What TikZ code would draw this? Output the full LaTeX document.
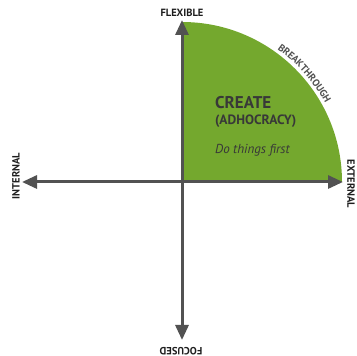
\documentclass[tikz,border=0pt]{standalone}
\usepackage{fontspec}
\setmainfont{PT Sans}
\usetikzlibrary{arrows.meta,decorations.text}
\definecolor{creategreen}{HTML}{74A82E}
\definecolor{axisgray}{HTML}{525252}
\definecolor{labelgray}{HTML}{1E1E1E}
\definecolor{quadtext}{HTML}{383838}
\begin{document}
\begin{tikzpicture}[x=1pt, y=1pt,
    axis/.style={draw=axisgray, line width=3pt, -{Triangle[length=15pt,width=13pt]}},
    axislabel/.style={font=\fontsize{10.5}{12}\selectfont\bfseries, text=labelgray, inner sep=0pt},
    quadlabel/.style={anchor=base west, inner sep=0pt, text=quadtext}]
  \useasboundingbox (0,0) rectangle (357,356);
  \coordinate (o) at (182,174);
  \coordinate (n) at (182,336);
  \coordinate (e) at (343,174);
  \coordinate (s) at (182,16);
  \coordinate (w) at (22,174);
  \fill[creategreen] (o) -- (182,334) arc[start angle=90, end angle=0, radius=160] -- cycle;
  \path[decorate, decoration={text along path, text align=center,
      text={|\fontsize{10}{11}\selectfont\bfseries\color{axisgray}|BREAKTHROUGH}}]
    (o) ++(60:163.5) arc[start angle=60, end angle=23, radius=163.5];
  \foreach \tip in {n, e, s, w} {
    \draw[axis] (o) -- (\tip);
  }
  \node[axislabel, anchor=base] (flexible) at (182,339.5) {FLEXIBLE};
  \node[axislabel, rotate=-90] (external) at (351,172) {EXTERNAL};
  \node[axislabel, rotate=90] (internal) at (16,180) {INTERNAL};
  \node[axislabel, rotate=180] (focused) at (181,5) {FOCUSED};
  \node[quadlabel, font=\fontsize{17}{20}\selectfont\bfseries] (create) at (215,247) {CREATE};
  \node[quadlabel, font=\fontsize{13.5}{16}\selectfont\bfseries] (adhocracy) at (215,231) {(ADHOCRACY)};
  \node[quadlabel, font=\fontsize{13}{15}\selectfont\itshape] (motto) at (215,202) {Do things first};
\end{tikzpicture}
\end{document}
